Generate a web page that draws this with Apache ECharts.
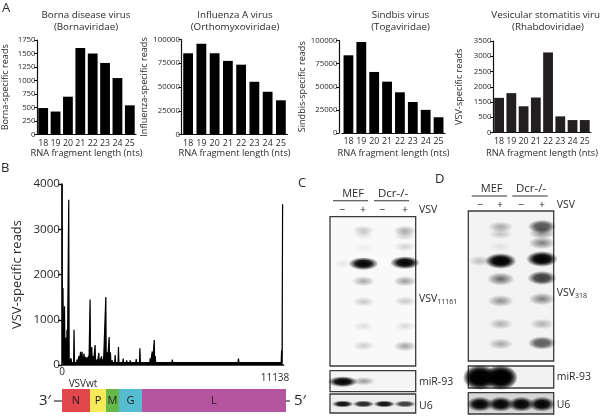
<!DOCTYPE html>
<html><head><meta charset="utf-8">
<style>html,body{margin:0;padding:0;background:#fff}#c{width:600px;height:418px}</style>
<script src="https://cdn.jsdelivr.net/npm/echarts@6/dist/echarts.min.js"></script>
</head><body><div id="c"></div>
<script>
const lengths = ['18','19','20','21','22','23','24','25'];
const bornaReads = [490,425,700,1600,1500,1325,1045,540];
const fluReads = [85500,95500,85500,77500,73500,55500,45000,36000];
const sindbisReads = [84000,98500,66000,55500,44000,33500,25000,17000];
// The VSV axis is evenly spaced but its labels skip 1000, so bars are read in tick-slot units.
const vsvReads = [1136,1290,860,1147,2625,529,408,408];
const vsvTickLabels = ['0','500','1500','2000','2500','3000','3500'];

const spikePos = [0,50,126,200,250,338,454,605,756,857,932,1008,1109,1184,1260,1336,1411,1497,1562,1663,1764,1850,1991,2066,2202,2268,2369,2434,2520,2671,2838,3074,3250,3427,3730,3916,4183,4435,4536,4637,4687,5544,6250,6602,7459,7862,8870,9173,10483,10886,11038,11088];
const spikeReads = [4000,1700,1300,600,780,3650,150,780,120,200,290,290,250,180,170,200,1450,400,200,440,120,270,190,120,1500,280,620,280,100,220,400,140,100,100,130,370,80,150,300,550,200,120,90,60,80,70,140,60,70,80,320,3550];
const baselineReads = 55;

const geneNames = ['N','P','M','G','L'];
const geneLengths = [1411,806,655,1159,7258];
const geneColors = ['#e2474b','#f6e95a','#67b84a','#56bdd0','#b5549f'];

// Blot bands: [lane, migration distance, intensity]
const blotCMain = [[1,47,.07],[2,13.5,.2],[2,18,.1],[2,31,.05],[2,47,1],[2,64.5,.33],[2,85,.2],[2,109.5,.11],[2,129,.18],
  [4,14,.32],[4,19,.18],[4,30,.16],[4,46,1],[4,64.5,.38],[4,84.5,.2],[4,109.5,.13],[4,129.5,.35]];
const blotCMir = [[1,11,1],[2,10.5,.38]];
const blotCU6 = [[1,10,.95],[2,10,.85],[3,10,.95],[4,10,.75]];
const blotDMain = [[1,50,.22],[2,16,.32],[2,23,.2],[2,36,.08],[2,50,1],[2,50,.6],[2,68,.6],[2,90,.42],[2,113,.28],[2,133,.32],
  [4,15.5,.65],[4,22,.45],[4,32,.5],[4,48,1],[4,48,.6],[4,67,.75],[4,88,.5],[4,113,.28],[4,132,.62]];
const blotDMir = [[1,11.5,1],[1,11.5,1],[2,11.5,1],[2,11.5,1]];
const blotDU6 = [[1,11.5,1],[2,11.5,1],[3,11.5,1],[4,11.5,1]];

const FONT = '"Open Sans","Noto Sans",sans-serif';
const INK = '#2a2a2a';
const grid=[], xAxis=[], yAxis=[], series=[], title=[];

function bar(left,width,top,bottom,vals,color,yMax,yInt,yName,fmt,nameGap,t1,t2,tcx,tcy,offset,xGap){
  const i=grid.length;
  grid.push({left,width,top,height:bottom-top});
  xAxis.push({type:'category',gridIndex:i,data:lengths,name:'RNA fragment length (nts)',nameLocation:'middle',nameGap:xGap,
    nameTextStyle:{fontFamily:FONT,fontSize:9.3,color:INK},
    axisLine:{lineStyle:{color:'#111',width:1.2}},axisTick:{alignWithLabel:true,length:3,lineStyle:{color:'#111',width:1}},
    axisLabel:{fontFamily:FONT,fontSize:8.8,color:INK,margin:4,interval:0}});
  yAxis.push({type:'value',gridIndex:i,min:0,max:yMax,interval:yInt,offset:offset||0,name:yName,nameLocation:'middle',nameGap,
    nameTextStyle:{fontFamily:FONT,fontSize:9.1,color:INK},splitLine:{show:false},
    axisLine:{show:true,lineStyle:{color:'#111',width:1.2}},axisTick:{show:true,length:3,lineStyle:{color:'#111',width:1}},
    axisLabel:{fontFamily:FONT,fontSize:7.8,color:INK,margin:1.5,formatter:fmt||(v=>String(v))}});
  series.push({type:'bar',xAxisIndex:i,yAxisIndex:i,data:vals,barWidth:9.8,itemStyle:{color},silent:true});
  title.push({text:t1+'\n'+t2,left:tcx,top:tcy,textAlign:'center',textStyle:{fontFamily:FONT,fontSize:9.8,fontWeight:'normal',color:INK,lineHeight:12}});
}
bar(31,105,40,134.5,bornaReads,'#000',1750,250,'Borna-specific reads',null,27,'Borna disease virus','(Bornaviridae)',81,4.5,0,14);
bar(181.5,106,39.5,134.5,fluReads,'#000',100000,25000,'Influenza-specific reads',null,32,'Influenza A virus','(Orthomyxoviridae)',230,4.5,0,14);
bar(342,103,40.5,133,sindbisReads,'#000',100000,25000,'Sindbis-specific reads',null,32,'Sindbis virus','(Togaviridae)',395.5,4,3,15.5);
bar(493,103,41,132.5,vsvReads,'#231f20',3000,500,'VSV-specific reads',v=>vsvTickLabels[v/500],29,'Vesicular stomatitis virus','(Rhabdoviridae)',543,4.5,0,16);

// Panel B coverage
const covData=[];
spikePos.forEach((p,k)=>{ if(k>0) covData.push([p-22,baselineReads]); covData.push([p,spikeReads[k]]); if(k<spikePos.length-1) covData.push([p+22,baselineReads]); });
let gi=grid.length;
grid.push({left:62,width:221.6,top:184,height:181});
xAxis.push({type:'value',gridIndex:gi,min:0,max:11138,axisLine:{show:true,onZero:false,lineStyle:{color:'#111',width:1.5}},axisTick:{show:false},axisLabel:{show:false},splitLine:{show:false}});
yAxis.push({type:'value',gridIndex:gi,min:0,max:4000,interval:1000,name:'VSV-specific reads',nameLocation:'middle',nameGap:38,
  nameTextStyle:{fontFamily:FONT,fontSize:13,color:INK},splitLine:{show:false},
  axisLine:{show:true,lineStyle:{color:'#111',width:1.5}},axisTick:{show:true,length:4,lineStyle:{color:'#111',width:1.4}},
  axisLabel:{fontFamily:FONT,fontSize:11.6,color:INK,margin:2,formatter:v=>String(v)}});
series.push({type:'line',xAxisIndex:gi,yAxisIndex:gi,data:covData,showSymbol:false,symbol:'none',lineStyle:{color:'#000',width:1.2},areaStyle:{color:'#000',opacity:1},silent:true,clip:false});

// Gene map
gi=grid.length;
const genomeTotal=geneLengths.reduce((a,b)=>a+b,0);
grid.push({left:62,width:224,top:389,height:23});
xAxis.push({type:'value',gridIndex:gi,min:0,max:genomeTotal,show:false});
yAxis.push({type:'category',gridIndex:gi,data:['VSV'],show:false});
geneNames.forEach((g,k)=>series.push({type:'bar',stack:'genome',xAxisIndex:gi,yAxisIndex:gi,data:[geneLengths[k]],barWidth:23,
  itemStyle:{color:geneColors[k]},silent:true,
  label:{show:true,position:'inside',formatter:g,fontFamily:FONT,fontSize:11,color:'#222'}}));

// Blots
function band(a){const mid=a>.6?a*.9:a*.55;return {type:'radial',x:.5,y:.5,r:.5,colorStops:[
  {offset:0,color:`rgba(0,0,0,${a})`},{offset:.5,color:`rgba(0,0,0,${mid})`},{offset:1,color:'rgba(0,0,0,0)'}]};}
function blot(left,right,top,bottom,xMin,xMax,bands,bg,sizeFn){
  const i=grid.length;
  grid.push({show:true,left,width:right-left,top,height:bottom-top,backgroundColor:bg,borderColor:'#3a3a3a',borderWidth:1.3,z:1});
  xAxis.push({type:'value',gridIndex:i,min:xMin,max:xMax,show:false});
  yAxis.push({type:'value',gridIndex:i,min:0,max:bottom-top,inverse:true,show:false});
  series.push({type:'scatter',xAxisIndex:i,yAxisIndex:i,symbol:'circle',silent:true,clip:true,
    symbolSize:v=>sizeFn(v[2]),
    data:bands.map(b=>({value:b,itemStyle:{color:band(b[2]),opacity:1}}))});
}
const mainC=a=>[20+10*a,9+4*a], mainD=a=>[22+10*a,9+7*a];
blot(330,415.7,216.7,366,.386,4.517,blotCMain,'#f9f9f9',mainC);
blot(330,415.7,370.7,391.7,.386,4.517,blotCMir,'#f5f5f5',a=>[20+10*a,7+4*a]);
blot(330,415.7,394,413,.386,4.517,blotCU6,'#eeeeee',a=>[22,7]);
blot(468.3,553.7,211,361,.435,4.565,blotDMain,'#f3f3f3',mainD);
blot(468.3,553.7,366,388,.435,4.565,blotDMir,'#f2f2f2',a=>[34,25]);
blot(468.3,553.7,392.7,414,.435,4.565,blotDU6,'#d6d6d6',a=>[27,15]);

// Text annotations
const gfx=[];
function txt(x,y,s,size,align,extra){gfx.push({type:'text',x,y,silent:true,style:Object.assign({text:s,fontFamily:FONT,fontSize:size,fill:INK,align:align||'left',verticalAlign:'middle'},extra||{})});}
function seg(x1,y1,x2,y2,w,col){gfx.push({type:'line',silent:true,shape:{x1,y1,x2,y2},style:{stroke:col||'#333',lineWidth:w||1}});}
txt(2,8,'A',13); txt(1,168,'B',13); txt(298,183,'C',13); txt(435,179,'D',13);
txt(62,372,'0',10,'center'); txt(275,378,'11138',10,'center'); txt(83,384,'VSVwt',10,'center');
txt(45,401,'3\u2032',15,'center'); txt(300,401,'5\u2032',15,'center');
seg(54,401,62,401,1.2); seg(286,401,290,401,1.2);
// panel C header
txt(353,194,'MEF',11,'center'); txt(393,194,'Dcr-/-',11.5,'center');
seg(333,200.7,368,200.7,1.1); seg(374,200.7,409,200.7,1.1);
[['\u2212',342],['+',363],['\u2212',382],['+',405]].forEach(d=>txt(d[1],210,d[0],10.5,'center'));
txt(419,210,'VSV',10.5);
gfx.push({type:'text',x:419,y:299,silent:true,style:{text:'{m|VSV}{s|11161}',verticalAlign:'middle',rich:{m:{fontFamily:FONT,fontSize:10.5,fill:INK},s:{fontFamily:FONT,fontSize:7,fill:INK,padding:[6,0,0,0]}}}});
txt(419,382,'miR-93',10.5); txt(419,405.7,'U6',10.5);
// panel D header
txt(491.7,189,'MEF',11,'center'); txt(531,189,'Dcr-/-',11.5,'center');
seg(471.7,196,507,196,1.1); seg(512.3,196,547.7,196,1.1);
[['\u2212',480],['+',500],['\u2212',521],['+',542]].forEach(d=>txt(d[1],205,d[0],10.5,'center'));
txt(556.7,205,'VSV',10.5);
gfx.push({type:'text',x:556.7,y:293,silent:true,style:{text:'{m|VSV}{s|318}',verticalAlign:'middle',rich:{m:{fontFamily:FONT,fontSize:10.5,fill:INK},s:{fontFamily:FONT,fontSize:7,fill:INK,padding:[6,0,0,0]}}}});
txt(556.7,377,'miR-93',10.5); txt(556.7,405,'U6',10.5);

const chart=echarts.init(document.getElementById('c'),null,{renderer:'canvas'});
chart.setOption({animation:false,backgroundColor:'#fff',title,grid,xAxis,yAxis,series,graphic:{elements:gfx}});
</script></body></html>
